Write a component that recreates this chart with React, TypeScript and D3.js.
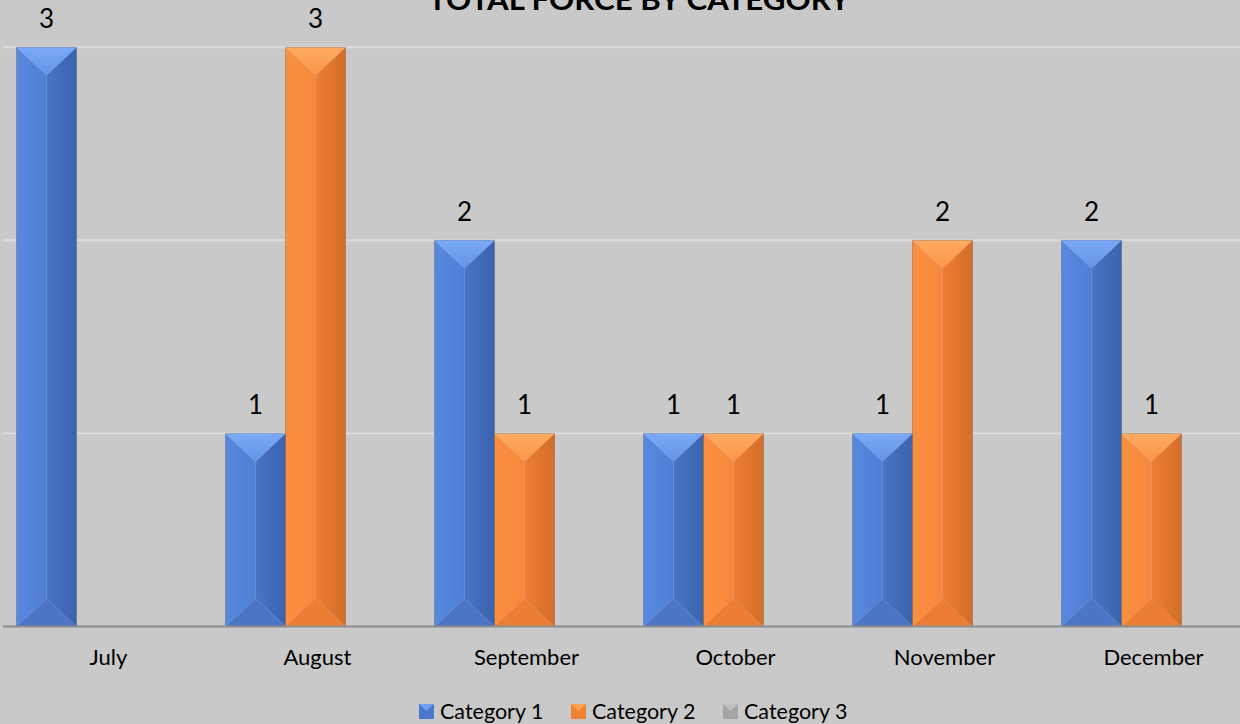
import React from 'react';
import * as d3 from 'd3';

const months = ['July', 'August', 'September', 'October', 'November', 'December'];
const category1 = [3, 1, 2, 1, 1, 2];
const category2 = [null, 3, 1, 1, 2, 1];
const category3 = [null, null, null, null, null, null];
const seriesNames = ['Category 1', 'Category 2', 'Category 3'];
const yTicks = [1, 2, 3];

const W = 1240;
const H = 724;
const FONT = 'Lato, "Open Sans", sans-serif';

const palettes = [
  { top: ['#7aaaf8', '#6393e6'], left: ['#5889de', '#4e7fd4'], right: ['#4675c8', '#3b63ad'], bottom: '#4b76c6', swatch: '#4a78cc' },
  { top: ['#ffab62', '#fa954a'], left: ['#fb8f40', '#f6883b'], right: ['#ee7f33', '#d36d28'], bottom: '#ec7e33', swatch: '#f08232' },
  { top: ['#c8c8c8', '#b4b4b4'], left: ['#ababab', '#a4a4a4'], right: ['#9d9d9d', '#8a8a8a'], bottom: '#9c9c9c', swatch: '#a5a5a5' },
];

function Bar({ x, y, w, h, s }: { x: number; y: number; w: number; h: number; s: number }) {
  const d = Math.min(28, h / 2, w / 2);
  const m = x + w / 2;
  const pts = (p: number[][]) => p.map(q => q.join(',')).join(' ');
  return (
    <g>
      <polygon points={pts([[x, y], [m, y + d], [m, y + h - d], [x, y + h]])} fill={`url(#l${s})`} />
      <polygon points={pts([[x + w, y], [m, y + d], [m, y + h - d], [x + w, y + h]])} fill={`url(#r${s})`} />
      <polygon points={pts([[x, y], [x + w, y], [m, y + d]])} fill={`url(#t${s})`} />
      <polygon points={pts([[x, y + h], [x + w, y + h], [m, y + h - d]])} fill={palettes[s].bottom} />
      <rect x={x} y={y} width={w} height={h} fill="none" stroke="#000" strokeOpacity={0.18} strokeWidth={1} />
    </g>
  );
}

export default function App() {
  const series = [category1, category2, category3];

  const x0 = d3.scaleBand<string>()
    .domain(months)
    .range([2, 2 + 209 * months.length])
    .paddingInner(0.139)
    .paddingOuter(0.0695);
  const x1 = d3.scaleBand<number>()
    .domain([0, 1, 2])
    .range([0, x0.bandwidth()]);
  const y = d3.scaleLinear().domain([0, 3]).range([626.5, 47.3]);

  const legendX = [419, 571, 723];

  return (
    <svg width={W} height={H} style={{ position: 'fixed', left: 0, top: 0, background: '#c9c9c9' }} fontFamily={FONT}>
      <defs>
        {palettes.map((p, i) => (
          <React.Fragment key={i}>
            <linearGradient id={`t${i}`} x1="0" y1="0" x2="0" y2="1">
              <stop offset="0" stopColor={p.top[0]} />
              <stop offset="1" stopColor={p.top[1]} />
            </linearGradient>
            <linearGradient id={`l${i}`} x1="0" y1="0" x2="1" y2="0">
              <stop offset="0" stopColor={p.left[0]} />
              <stop offset="1" stopColor={p.left[1]} />
            </linearGradient>
            <linearGradient id={`r${i}`} x1="0" y1="0" x2="1" y2="0">
              <stop offset="0" stopColor={p.right[0]} />
              <stop offset="1" stopColor={p.right[1]} />
            </linearGradient>
          </React.Fragment>
        ))}
      </defs>

      <rect width={W} height={H} fill="#c9c9c9" />

      {yTicks.map(t => (
        <line key={t} x1={3} x2={W} y1={y(t)} y2={y(t)} stroke="#dcdcdc" strokeWidth={2} />
      ))}

      {months.map((mo, i) => (
        <g key={mo}>
          {series.map((vals, s) => {
            const v = vals[i];
            if (v == null) return null;
            const bx = (x0(mo) ?? 0) + (x1(s) ?? 0);
            const bw = x1.bandwidth();
            return (
              <g key={s}>
                <Bar x={bx} y={y(v)} w={bw} h={y(0) - y(v)} s={s} />
                <text x={bx + bw / 2} y={y(v) - 19} textAnchor="middle" fontSize={26} fill="#000">{v}</text>
              </g>
            );
          })}
        </g>
      ))}

      <line x1={3} x2={W} y1={y(0)} y2={y(0)} stroke="#8c8c8c" strokeWidth={2} />

      {months.map(mo => (
        <text key={mo} x={(x0(mo) ?? 0) + x0.bandwidth() / 2 + 2} y={665} textAnchor="middle" fontSize={22} fill="#000">{mo}</text>
      ))}

      <text x={639} y={10} textAnchor="middle" fontSize={29} fontWeight="bold" fill="#000" textLength={422} lengthAdjust="spacingAndGlyphs">TOTAL FORCE BY CATEGORY</text>

      {seriesNames.map((name, s) => (
        <g key={name} transform={`translate(${legendX[s]},704)`}>
          <rect width={15} height={15} fill={palettes[s].swatch} />
          <polygon points="0,0 15,0 7.5,7" fill={palettes[s].top[0]} opacity={0.8} />
          <text x={21} y={15} fontSize={21.5} fill="#000">{name}</text>
        </g>
      ))}
    </svg>
  );
}
